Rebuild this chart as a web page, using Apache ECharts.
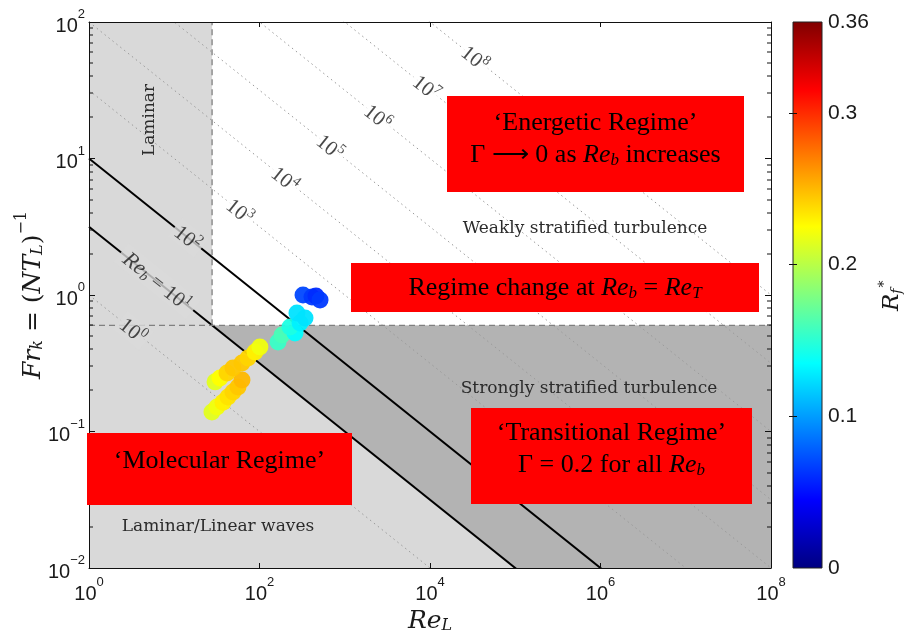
<!DOCTYPE html>
<html>
<head>
<meta charset="utf-8">
<script src="https://cdn.jsdelivr.net/npm/echarts@6/dist/echarts.min.js"></script>
<style>
html, body { margin: 0; padding: 0; background: #fff; }
#chart { width: 914px; height: 631px; }
</style>
</head>
<body>
<div id="chart"></div>
<script>
// measured points (Re_L, Fr_k, R_f*)
const pointReL = [27.7, 31.7, 37.3, 42.7, 48.9, 56, 62.3,
  30.1, 34.4, 41.6, 48.9, 62.3, 73.3, 88.6, 101,
  165, 184,
  261, 228, 299, 275, 342,
  324, 413, 460, 513];
const pointFr = [0.139, 0.151, 0.164, 0.179, 0.195, 0.212, 0.238,
  0.231, 0.247, 0.268, 0.292, 0.318, 0.345, 0.382, 0.416,
  0.453, 0.509,
  0.527, 0.583, 0.624, 0.738, 0.678,
  1.0, 0.967, 0.983, 0.919];
const pointRf = [0.215, 0.22, 0.23, 0.235, 0.24, 0.245, 0.25,
  0.215, 0.225, 0.24, 0.245, 0.245, 0.24, 0.23, 0.22,
  0.155, 0.16,
  0.135, 0.145, 0.13, 0.125, 0.125,
  0.07, 0.065, 0.06, 0.065];

// Re_b = Re_L * Fr^2 contours
const rebSolid = [10, 100];
const rebDotted = [1, 1e3, 1e4, 1e5, 1e6, 1e7, 1e8];
const rebLabels = [1, 10, 100, 1e3, 1e4, 1e5, 1e6, 1e7, 1e8];
const rebLabelAt = [3.3, 6.3, 14.5, 59, 200, 675, 2450, 9100, 33800];

const frCrit = 0.6;
const rebLam = 10;
const reLam = rebLam / (frCrit * frCrit);

const xRange = [1, 1e8];
const yRange = [1e-2, 1e2];
const xTicks = [1, 1e2, 1e4, 1e6, 1e8];
const yTicks = [1e-2, 1e-1, 1, 10, 100];
const cbRange = [0, 0.36];
const cbLabels = [0, 0.1, 0.2, 0.3, 0.36];
const cbTicks = [0.1, 0.2, 0.3];

const jet = ['#000080', '#0000ff', '#0080ff', '#00ffff', '#80ff80', '#ffff00', '#ff8000', '#ff0000', '#800000'];

let chart = echarts.init(document.getElementById('chart'));

// minor log ticks 2..9 of every decade
let yMinor = [];
for (let d = -2; d < 2; d++) {
  for (let m = 2; m < 10; m++) yMinor.push(m * Math.pow(10, d));
}

function frOf(reb, re) {
  return Math.sqrt(reb / re);
}
function contour(reb) {
  return [[xRange[0], frOf(reb, xRange[0])], [xRange[1], frOf(reb, xRange[1])]];
}

// regions (straight edges in log-log space)
const regions = [
  { color: '#d9d9d9', pts: [[xRange[0], yRange[0]], [xRange[1], yRange[0]], [xRange[1], yRange[1]], [xRange[0], yRange[1]]] },
  { color: '#b3b3b3', pts: [[reLam, frCrit], [xRange[1], frCrit], [xRange[1], yRange[0]], [rebLam / (yRange[0] * yRange[0]), yRange[0]]] },
  { color: '#ffffff', pts: [[reLam, frCrit], [xRange[1], frCrit], [xRange[1], yRange[1]], [reLam, yRange[1]]] },
];

const serif = 'Liberation Serif';
const nameSerif = 'DejaVu Serif';
const sans = 'Liberation Sans';
const txt = '#1a1a1a';

const tickRich = {
  b: { fontFamily: sans, fontSize: 20, color: txt, lineHeight: 28, verticalAlign: 'bottom' },
  e: { fontFamily: sans, fontSize: 13, color: txt, lineHeight: 14, verticalAlign: 'top' },
};
function powLabel(v) {
  let e = Math.round(Math.log10(v));
  return '{b|10}{e|' + (e < 0 ? '\u2212' + (-e) : e) + '}';
}

const decW = 682 / 8, decH = 546 / 4;
const angle = Math.atan(0.5 * decH / decW) * 180 / Math.PI;

const labelRich = {
  b: { fontFamily: serif, fontSize: 21, color: '#1a1a1a', lineHeight: 24, verticalAlign: 'bottom' },
  e: { fontFamily: serif, fontSize: 14, color: '#1a1a1a', lineHeight: 14, verticalAlign: 'top' },
  i: { fontFamily: serif, fontStyle: 'italic', fontSize: 22, color: '#1a1a1a', lineHeight: 24, verticalAlign: 'bottom' },
  s: { fontFamily: serif, fontStyle: 'italic', fontSize: 14, color: '#1a1a1a', lineHeight: 12, verticalAlign: 'bottom' },
};

let labelData = rebLabels.map(function (reb, i) {
  let re = rebLabelAt[i];
  let exp = Math.round(Math.log10(reb));
  let bg = (re < reLam || reb < rebLam) ? '#d9d9d9' : '#ffffff';
  let text = '{b|10}{e|' + exp + '}';
  if (reb === rebLam) text = '{i|Re}{s|b}{b| = 10}{e|' + exp + '}';
  return {
    value: [re, frOf(reb, re)],
    label: { formatter: text, backgroundColor: bg, padding: reb === rebLam ? [0, 6] : [0, 3] },
  };
});

let series = [
  {
    type: 'custom',
    silent: true,
    z: 1,
    renderItem: function (params, api) {
      let r = regions[params.dataIndex];
      return {
        type: 'polygon',
        shape: { points: r.pts.map(function (p) { return api.coord(p); }) },
        style: { fill: r.color },
      };
    },
    data: regions.map(function (r) { return r.pts[0]; }),
  },
];
rebDotted.forEach(function (reb) {
  series.push({
    type: 'line', data: contour(reb), symbol: 'none', silent: true, z: 2,
    lineStyle: { color: '#9a9a9a', width: 1, type: [1.5, 3.5] },
  });
});
rebSolid.forEach(function (reb) {
  series.push({
    type: 'line', data: contour(reb), symbol: 'none', silent: true, z: 3,
    lineStyle: { color: '#000', width: 2 },
  });
});
// dashed regime boundaries
series.push({
  type: 'line', data: [[xRange[0], frCrit], [xRange[1], frCrit]], symbol: 'none', silent: true, z: 3,
  lineStyle: { color: '#808080', width: 1.3, type: [6, 4] },
});
series.push({
  type: 'line', data: [[reLam, frCrit], [reLam, yRange[1]]], symbol: 'none', silent: true, z: 3,
  lineStyle: { color: '#808080', width: 1.3, type: [6, 4] },
});
// contour labels
series.push({
  type: 'scatter', symbolSize: 0, silent: true, z: 4,
  label: { show: true, position: 'inside', rotate: -angle, rich: labelRich },
  data: labelData,
});
// minor ticks on left and right edges of the log y axis (one item draws them all)
series.push({
  type: 'custom', silent: true, z: 7,
  renderItem: function (params, api) {
    let kids = [];
    yMinor.forEach(function (v) {
      let l = api.coord([xRange[0], v]);
      let r = api.coord([xRange[1], v]);
      kids.push({ type: 'rect', shape: { x: l[0], y: Math.round(l[1]) - 0.5, width: 4, height: 1 }, style: { fill: '#111' } });
      kids.push({ type: 'rect', shape: { x: r[0] - 4, y: Math.round(r[1]) - 0.5, width: 4, height: 1 }, style: { fill: '#111' } });
    });
    return { type: 'group', children: kids };
  },
  data: [[xRange[0], yRange[0]]],
});
// data points
series.push({
  type: 'scatter', symbol: 'circle', symbolSize: 17, z: 5,
  itemStyle: { opacity: 0.95 },
  data: pointReL.map(function (x, i) { return [x, pointFr[i], pointRf[i]]; }),
});
let pointSeriesIndex = series.length - 1;
// colorbar
series.push({
  type: 'custom', xAxisIndex: 2, yAxisIndex: 2, silent: true, z: 2,
  renderItem: function (params, api) {
    let a = api.coord([0, cbRange[0]]);
    let b = api.coord([1, cbRange[1]]);
    return {
      type: 'rect',
      shape: { x: a[0], y: b[1], width: b[0] - a[0], height: a[1] - b[1] },
      style: {
        fill: new echarts.graphic.LinearGradient(0, 1, 0, 0, jet.map(function (c, i) {
          return { offset: i / (jet.length - 1), color: c };
        })),
        stroke: '#222', lineWidth: 1,
      },
    };
  },
  data: [[0, 0]],
});

const axisLine = { show: true, lineStyle: { color: '#111', width: 1 } };
const tickStyle = { color: '#111', width: 1 };

let option = {
  animation: false,
  backgroundColor: '#fff',
  grid: [
    { left: 89, top: 22, width: 682, height: 546, outerBoundsMode: 'none' },
    { left: 793, top: 22, width: 29, height: 546, outerBoundsMode: 'none' },
  ],
  xAxis: [
    {
      type: 'log', logBase: 10, min: xRange[0], max: xRange[1], interval: 2, z: 6,
      axisLine: axisLine, splitLine: { show: false },
      axisTick: { inside: true, length: 5, lineStyle: tickStyle, customValues: xTicks },
      axisLabel: { margin: 8, formatter: powLabel, rich: tickRich, customValues: xTicks },
      name: '{i|Re}{s|L}', nameLocation: 'middle', nameGap: 33,
      nameTextStyle: {
        rich: {
          i: { fontFamily: nameSerif, fontStyle: 'italic', fontSize: 25, color: txt, lineHeight: 30, verticalAlign: 'bottom' },
          s: { fontFamily: nameSerif, fontStyle: 'italic', fontSize: 16, color: txt, lineHeight: 14, verticalAlign: 'bottom' },
        },
      },
    },
    {
      type: 'log', logBase: 10, min: xRange[0], max: xRange[1], interval: 2, position: 'top', z: 6,
      axisLine: axisLine, splitLine: { show: false }, axisLabel: { show: false },
      axisTick: { inside: true, length: 5, lineStyle: tickStyle, customValues: xTicks },
    },
    { gridIndex: 1, type: 'value', min: 0, max: 1, show: false },
  ],
  yAxis: [
    {
      type: 'log', logBase: 10, min: yRange[0], max: yRange[1], interval: 1, z: 6,
      axisLine: axisLine, splitLine: { show: false },
      axisTick: { inside: true, length: 6, lineStyle: tickStyle, customValues: yTicks },
      axisLabel: { margin: 4, formatter: powLabel, rich: tickRich, customValues: yTicks },
      name: '{i|Fr}{s|k}{n| = (}{i|NT}{s|L}{n|)}{e|\u22121}', nameLocation: 'middle', nameRotate: 90,
      nameGap: 43, nameMoveOverlap: false,
      nameTextStyle: {
        rich: {
          i: { fontFamily: nameSerif, fontStyle: 'italic', fontSize: 25, color: txt, lineHeight: 32, verticalAlign: 'bottom' },
          n: { fontFamily: nameSerif, fontSize: 25, color: txt, lineHeight: 32, verticalAlign: 'bottom' },
          s: { fontFamily: nameSerif, fontStyle: 'italic', fontSize: 16, color: txt, lineHeight: 16, verticalAlign: 'bottom' },
          e: { fontFamily: nameSerif, fontSize: 16, color: txt, lineHeight: 16, verticalAlign: 'top' },
        },
      },
    },
    {
      type: 'log', logBase: 10, min: yRange[0], max: yRange[1], interval: 1, position: 'right', z: 6,
      axisLine: axisLine, splitLine: { show: false }, axisLabel: { show: false },
      axisTick: { inside: true, length: 6, lineStyle: tickStyle, customValues: yTicks },
    },
    {
      gridIndex: 1, type: 'value', min: cbRange[0], max: cbRange[1], position: 'right', z: 6,
      axisLine: { show: false }, splitLine: { show: false },
      axisTick: { inside: true, length: 4, lineStyle: tickStyle, customValues: cbTicks },
      axisLabel: {
        margin: 6, fontFamily: sans, fontSize: 21, color: txt, customValues: cbLabels,
        formatter: function (v) { return String(+v.toFixed(2)); },
      },
      name: '{i|R}{s|f}{e|\u2217}', nameLocation: 'middle', nameRotate: 90, nameGap: 52,
      nameTextStyle: {
        rich: {
          i: { fontFamily: nameSerif, fontStyle: 'italic', fontSize: 23, color: txt, lineHeight: 30, verticalAlign: 'bottom' },
          s: { fontFamily: nameSerif, fontStyle: 'italic', fontSize: 14, color: txt, lineHeight: 14, verticalAlign: 'bottom' },
          e: { fontFamily: nameSerif, fontSize: 14, color: txt, lineHeight: 14, verticalAlign: 'top' },
        },
      },
    },
    {
      gridIndex: 1, type: 'value', min: cbRange[0], max: cbRange[1], position: 'left', z: 6,
      axisLine: { show: false }, splitLine: { show: false }, axisLabel: { show: false },
      axisTick: { inside: true, length: 4, lineStyle: tickStyle, customValues: cbTicks },
    },
  ],
  visualMap: {
    show: false, type: 'continuous', min: cbRange[0], max: cbRange[1], dimension: 2,
    seriesIndex: pointSeriesIndex, inRange: { color: jet },
  },
  series: series,
};

// annotation boxes and region names
const boxRich = {
  n: { fontFamily: serif, fontSize: 26, fill: '#000', lineHeight: 32 },
  i: { fontFamily: serif, fontStyle: 'italic', fontSize: 26, fill: '#000', lineHeight: 32 },
  s: { fontFamily: serif, fontStyle: 'italic', fontSize: 17, fill: '#000', lineHeight: 32, padding: [12, 0, 0, 0] },
};
const boxes = [
  { x: 447, y: 96, w: 297, h: 96, cy: 139, text: '{n|\u2018Energetic Regime\u2019}\n{n|\u0393 \u27F6 0 as }{i|Re}{s|b}{n| increases}' },
  { x: 351, y: 263, w: 408, h: 49, cy: 288, text: '{n|Regime change at }{i|Re}{s|b}{n| = }{i|Re}{s|T}' },
  { x: 87, y: 433, w: 265, h: 72, cy: 461, text: '{n|\u2018Molecular Regime\u2019}' },
  { x: 471, y: 408, w: 281, h: 96, cy: 449, text: '{n|\u2018Transitional Regime\u2019}\n{n|\u0393 = 0.2 for all }{i|Re}{s|b}' },
];
const regionNames = [
  { text: 'Laminar', x: 150, y: 120, rot: Math.PI / 2 },
  { text: 'Weakly stratified turbulence', x: 585, y: 229, rot: 0 },
  { text: 'Strongly stratified turbulence', x: 589, y: 389, rot: 0 },
  { text: 'Laminar/Linear waves', x: 218, y: 527, rot: 0 },
];
let graphic = [];
regionNames.forEach(function (r) {
  graphic.push({
    type: 'text', x: r.x, y: r.y, rotation: r.rot, z: 50,
    style: { text: r.text, fontFamily: 'DejaVu Serif', fontSize: 17, fill: '#2b2b2b', align: 'center', verticalAlign: 'middle' },
  });
});
boxes.forEach(function (b) {
  graphic.push({ type: 'rect', z: 100, shape: { x: b.x, y: b.y, width: b.w, height: b.h }, style: { fill: '#ff0000' } });
  graphic.push({
    type: 'text', z: 101, x: b.x + b.w / 2, y: b.cy,
    style: { text: b.text, rich: boxRich, align: 'center', verticalAlign: 'middle' },
  });
});
option.graphic = graphic;

chart.setOption(option);
window.addEventListener('resize', function () {
  chart.resize();
});
</script>
</body>
</html>
